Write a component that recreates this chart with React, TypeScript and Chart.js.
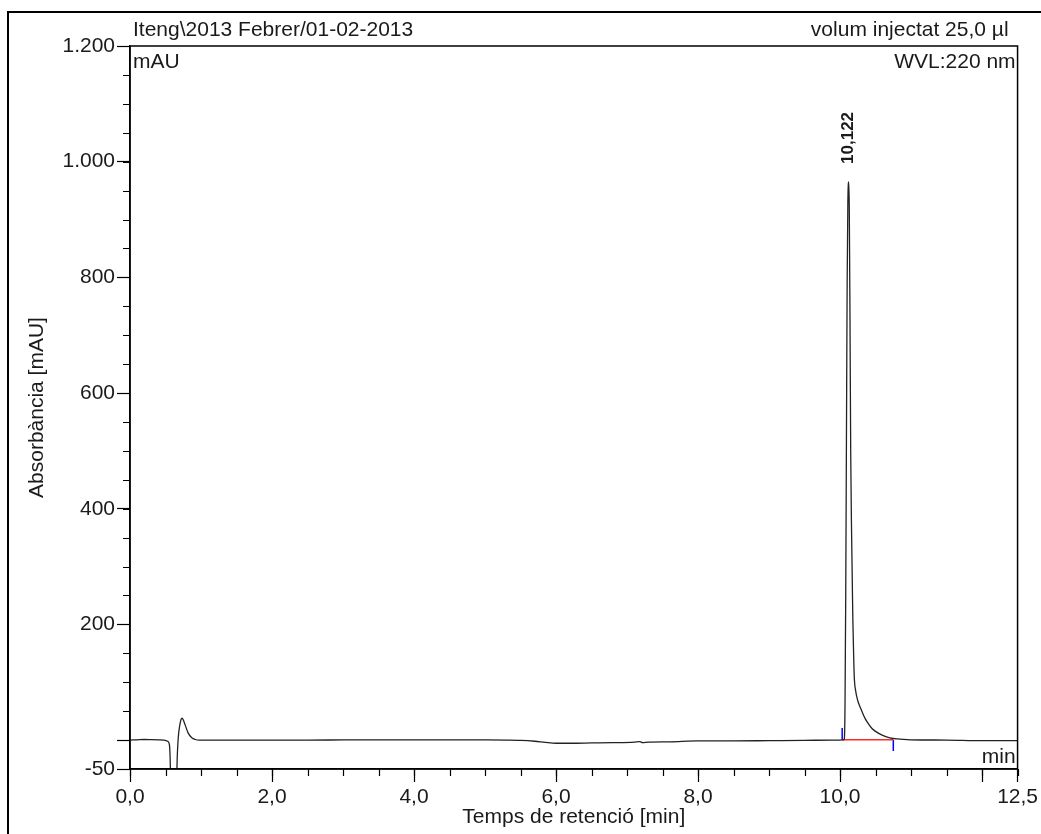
import React, { useEffect, useRef } from "react";
import { Chart, registerables } from "chart.js";

Chart.register(...registerables);

// ---- Data ----
const retentionTime = [
  0.0, 0.1, 0.2, 0.3, 0.4, 0.48, 0.53, 0.555, 0.565, 0.575, 0.585, 0.64, 0.655, 0.665,
  0.68, 0.7, 0.72, 0.735, 0.75, 0.78, 0.82, 0.87, 0.92, 0.97, 1.5, 2.0, 2.5, 3.0, 3.5,
  4.0, 4.5, 5.0, 5.3, 5.5, 5.7, 5.85, 6.0, 6.2, 6.5, 6.8, 7.1, 7.18, 7.22, 7.3, 7.6,
  8.0, 8.5, 9.0, 9.5, 9.9, 10.0, 10.05, 10.06, 10.07, 10.08, 10.09, 10.1, 10.11, 10.122,
  10.13, 10.14, 10.15, 10.16, 10.17, 10.18, 10.19, 10.2, 10.22, 10.25, 10.3, 10.35, 10.4,
  10.45, 10.5, 10.6, 10.7, 10.8, 11.0, 11.5, 12.0, 12.5,
];
const absorbance = [
  0, 0.5, 1.0, 0.8, 0.5, 0, -2, -8, -30, -80, -130, -130, -80, -30,
  5, 25, 36, 38, 35, 25, 12, 4, 1, 0, 0, 0, 0, 0.3, 0.5,
  0.5, 0.5, 0.3, 0, -0.5, -2, -4, -5.5, -5.5, -5, -4.5, -3.5, -2.5, -4.5, -3.5, -3,
  -1.5, -1.5, -1, -0.5, 0, 0, 0.5, 2, 60, 250, 520, 790, 930, 965,
  920, 730, 500, 380, 294, 210, 155, 110, 85, 68, 52, 38, 28,
  20, 15, 8, 4, 2, 0.5, 0, -1, -1,
];

const baselineTime = [10.03, 10.75];
const baselineValue = [0.5, 0.5];
const peakStartMarkerTime = [10.03, 10.03];
const peakStartMarkerValue = [0, 21];
const peakEndMarkerTime = [10.75, 10.75];
const peakEndMarkerValue = [0, -19];

const peakTime = 10.122;
const peakLabel = "10,122";

const yMin = -50;
const yMax = 1200;
const yMinorStep = 50;
const yTickValues = [-50, 0, 200, 400, 600, 800, 1000, 1200];
const yTickLabels = ["-50", "", "200", "400", "600", "800", "1.000", "1.200"];

const xMin = 0;
const xMax = 12.5;
const xMinorStep = 0.5;
const xTickValues = [0, 2, 4, 6, 8, 10, 12, 12.5];
const xTickLabels = ["0,0", "2,0", "4,0", "6,0", "8,0", "10,0", "", "12,5"];

const headerLeft = "Iteng\\2013 Febrer/01-02-2013";
const headerRight = "volum injectat 25,0 µl";
const unitLabel = "mAU";
const wavelengthLabel = "WVL:220 nm";
const xUnitLabel = "min";
const yTitle = "Absorbància [mAU]";
const xTitle = "Temps de retenció [min]";

const FONT = "'Liberation Sans', Arial, sans-serif";
const TEXT = "#1a1a1a";
const FS = 21;

const toPoints = (xs: number[], ys: number[]) => xs.map((x, i) => ({ x, y: ys[i] }));

const framePlugin = {
  id: "frameAndTexts",
  afterDraw(chart: any) {
    const { ctx, chartArea, scales } = chart;
    const x = scales.x;
    const y = scales.y;
    ctx.save();
    // plot box
    ctx.strokeStyle = "#000";
    ctx.lineWidth = 1.5;
    ctx.strokeRect(chartArea.left, chartArea.top, chartArea.right - chartArea.left, chartArea.bottom - chartArea.top);

    // minor ticks
    ctx.lineWidth = 1.2;
    ctx.beginPath();
    for (let v = yMin; v <= yMax + 1e-9; v += yMinorStep) {
      const py = Math.round(y.getPixelForValue(v)) + 0.5;
      ctx.moveTo(chartArea.left - 7, py);
      ctx.lineTo(chartArea.left, py);
    }
    for (let v = xMin; v <= xMax + 1e-9; v += xMinorStep) {
      const px = Math.round(x.getPixelForValue(v)) + 0.5;
      ctx.moveTo(px, chartArea.bottom);
      ctx.lineTo(px, chartArea.bottom + 7);
    }
    ctx.stroke();

    // texts
    ctx.fillStyle = TEXT;
    ctx.font = `${FS}px ${FONT}`;
    ctx.textBaseline = "middle";
    ctx.textAlign = "left";
    ctx.fillText(headerLeft, chartArea.left + 3, 30);
    ctx.fillText(unitLabel, chartArea.left + 3, 62);
    ctx.textAlign = "right";
    ctx.fillText(headerRight, chartArea.right - 9, 30);
    ctx.fillText(wavelengthLabel, chartArea.right - 2, 62);
    ctx.fillText(xUnitLabel, chartArea.right - 2, chartArea.bottom - 12);

    // peak label
    const peakHeight = Math.max(...absorbance);
    const px = x.getPixelForValue(peakTime);
    const py = y.getPixelForValue(peakHeight) - 18;
    ctx.translate(px, py);
    ctx.rotate(-Math.PI / 2);
    ctx.font = `bold 17px ${FONT}`;
    ctx.textAlign = "left";
    ctx.textBaseline = "middle";
    ctx.fillText(peakLabel, 0, 0);
    ctx.restore();
  },
};

export default function App() {
  const canvasRef = useRef<HTMLCanvasElement | null>(null);

  useEffect(() => {
    const canvas = canvasRef.current;
    if (!canvas) return;
    const chart = new Chart(canvas, {
      type: "line",
      data: {
        datasets: [
          {
            label: "signal",
            data: toPoints(retentionTime, absorbance),
            borderColor: "#222",
            borderWidth: 1.3,
            pointRadius: 0,
            cubicInterpolationMode: "monotone",
          },
          {
            label: "baseline",
            data: toPoints(baselineTime, baselineValue),
            borderColor: "#ff2a2a",
            borderWidth: 1.5,
            pointRadius: 0,
          },
          {
            label: "start",
            data: toPoints(peakStartMarkerTime, peakStartMarkerValue),
            borderColor: "#0000ff",
            borderWidth: 1.5,
            pointRadius: 0,
          },
          {
            label: "end",
            data: toPoints(peakEndMarkerTime, peakEndMarkerValue),
            borderColor: "#0000ff",
            borderWidth: 1.5,
            pointRadius: 0,
          },
        ],
      },
      options: {
        responsive: false,
        animation: false,
        events: [],
        layout: { padding: { top: 46, right: 23, left: 0, bottom: 0 } },
        plugins: {
          legend: { display: false },
          tooltip: { enabled: false },
          title: { display: false },
        },
        scales: {
          x: {
            type: "linear",
            min: xMin,
            max: xMax,
            afterBuildTicks: (scale: any) => {
              scale.ticks = xTickValues.map((v) => ({ value: v }));
            },
            afterFit: (scale: any) => {
              scale.height = 65;
            },
            ticks: {
              autoSkip: false,
              maxRotation: 0,
              padding: 3,
              color: TEXT,
              font: { family: FONT, size: FS },
              callback: (value: any) => {
                const i = xTickValues.indexOf(Number(value));
                return i >= 0 ? xTickLabels[i] : "";
              },
            },
            grid: {
              drawOnChartArea: false,
              drawTicks: true,
              tickLength: 13,
              tickColor: "#000",
              tickWidth: 1.2,
            },
            border: { display: true, color: "#000", width: 1.5 },
            title: {
              display: true,
              text: xTitle,
              color: TEXT,
              font: { family: FONT, size: FS, lineHeight: 1.2 },
              padding: { top: 0, bottom: 4 },
            },
          },
          y: {
            type: "linear",
            min: yMin,
            max: yMax,
            afterBuildTicks: (scale: any) => {
              scale.ticks = yTickValues.map((v) => ({ value: v }));
            },
            afterFit: (scale: any) => {
              scale.width = 130;
            },
            ticks: {
              autoSkip: false,
              padding: 2,
              color: TEXT,
              font: { family: FONT, size: FS },
              callback: (value: any) => {
                const i = yTickValues.indexOf(Number(value));
                return i >= 0 ? yTickLabels[i] : "";
              },
            },
            grid: {
              drawOnChartArea: false,
              drawTicks: true,
              tickLength: 13,
              tickColor: "#000",
              tickWidth: 1.2,
            },
            border: { display: true, color: "#000", width: 1.5 },
            title: {
              display: true,
              text: yTitle,
              color: TEXT,
              font: { family: FONT, size: FS, lineHeight: 1.2 },
              padding: { top: 25, bottom: 0 },
            },
          },
        },
      },
      plugins: [framePlugin],
    } as any);
    return () => chart.destroy();
  }, []);

  return (
    <div
      style={{
        position: "fixed",
        left: 0,
        top: 0,
        width: 1041,
        height: 834,
        overflow: "hidden",
        background: "#fff",
      }}
    >
      <div
        style={{
          position: "absolute",
          left: 7,
          top: 11,
          width: 1200,
          height: 1000,
          border: "2px solid #000",
          boxSizing: "border-box",
        }}
      />
      <canvas
        ref={canvasRef}
        width={1041}
        height={834}
        style={{ position: "absolute", left: 0, top: 0, width: 1041, height: 834 }}
      />
    </div>
  );
}
